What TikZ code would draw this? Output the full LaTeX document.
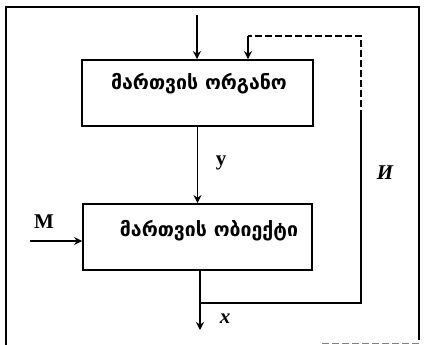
\documentclass[tikz,border=0pt]{standalone}
\usepackage{fontspec}
\setmainfont{Liberation Serif}
\newfontfamily\geofont{DejaVu Sans}
\usetikzlibrary{arrows.meta}
\begin{document}
\begin{tikzpicture}[x=1pt,y=-1pt,line width=1.8pt,
  blk/.style={draw,inner sep=0pt},
  arr/.style={-{Stealth[length=8pt,width=8pt]}},
  dsh/.style={dash pattern=on 7pt off 3pt},
  lbl/.style={font=\bfseries\fontsize{21}{21}\selectfont,inner sep=0pt},
  lbli/.style={font=\bfseries\itshape\fontsize{21}{21}\selectfont,inner sep=0pt},
  geotxt/.style={font=\geofont\bfseries\fontsize{19.5}{19.5}\selectfont,inner sep=0pt}]
\useasboundingbox (0,0) rectangle (424,345);
% outer frame
\draw (6,345) -- (6,7) -- (419,7) -- (419,340);
\draw[line width=0.6pt,gray,dsh] (419,343) -- (320,343);
% blocks
\node[blk,minimum width=231pt,minimum height=66pt] (org) at (197.5,93) {};
\node[blk,minimum width=229pt,minimum height=66pt] (obj) at (197.5,237) {};
\node[geotxt] (orgtxt) at (199,84) {მართვის ორგანო};
\node[geotxt] (objtxt) at (209,231) {მართვის ობიექტი};
% coordinates
\coordinate (in) at (197,15);
\coordinate (m) at (30,241);
\coordinate (xo) at (200,330);
\coordinate (br) at (200,303);
\coordinate (fr) at (361,303);
\coordinate (fm) at (361,117);
\coordinate (ft) at (361,36);
\coordinate (fl) at (248,36);
% connectors
\draw[arr] (in) -- (in |- org.north);
\draw[arr] (org.south) -- (obj.north);
\draw[arr] (m) -- (m -| obj.west);
\draw[arr] (obj.south -| xo) -- (xo);
\draw (br) -- (fr) -- (fm);
\draw[dsh] (fm) -- (ft) -- (fl);
\draw[arr] (fl) -- (fl |- org.north);
% labels
\node[lbl] (ly) at (221,163) {y};
\node[lbli] (lI) at (385,173) {И};
\node[lbl] (lM) at (44,222) {M};
\node[lbli] (lx) at (225,319) {x};
\end{tikzpicture}
\end{document}
